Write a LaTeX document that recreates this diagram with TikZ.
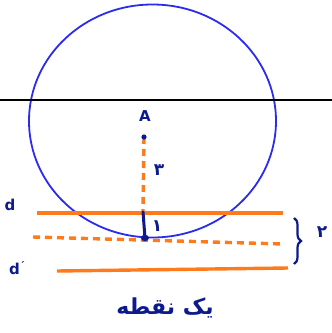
\documentclass[tikz,border=0pt]{standalone}
\usepackage{fontspec}
\setmainfont{DejaVu Sans}
\newfontfamily\arabicfont[Script=Arabic]{DejaVu Sans}
\TeXXeTstate=1
\usetikzlibrary{decorations.pathreplacing,shapes.geometric}
\definecolor{ink}{HTML}{0C1A8C}
\definecolor{circ}{HTML}{2B2BEE}
\definecolor{org}{HTML}{FF7A1A}
\begin{document}
\begin{tikzpicture}[x=1pt,y=-1pt,
  inktext/.style={text=ink,font=\bfseries\fontsize{15}{15}\selectfont,inner sep=0pt},
  fatext/.style={text=ink,font=\arabicfont\bfseries\fontsize{17}{17}\selectfont,inner sep=0pt},
  orangeline/.style={draw=org,line width=3.4pt},
  orangedash/.style={draw=org,line width=3.4pt,dash pattern=on 7pt off 5pt}]
\useasboundingbox (0,0) rectangle (332,333);
% circle
\node (C) [draw=circ,line width=1.8pt,ellipse,minimum width=247pt,minimum height=233pt,inner sep=0pt] at (152.5,121) {};
% horizontal black line
\coordinate (L1) at (0,100);
\coordinate (L2) at (332,100);
\draw[line width=2pt] (L1) -- (L2);
% points
\coordinate (A) at (144,137);
\coordinate (T) at (145,238);
\coordinate (T1) at (143,212);
% lines
\coordinate (d1) at (37,213); \coordinate (d2) at (283,213);
\coordinate (m1) at (33,237); \coordinate (m2) at (283,244);
\coordinate (e1) at (57,271); \coordinate (e2) at (288,268);
\draw[orangeline] (d1) -- (d2);
\draw[orangedash] (m1) -- (m2);
\draw[orangeline] (e1) -- (e2);
\draw[orangedash] (A) -- (T1);
\draw[ink,line width=3pt,line cap=round] (T1) -- (T);
\fill[ink] (A) circle (2.6pt);
\fill[ink] (T) ellipse (4pt and 3.2pt);
% brace
\coordinate (b1) at (294,218); \coordinate (b2) at (294,264);
\draw[ink,line width=2.2pt,decorate,decoration={brace,amplitude=7pt}] (b1) -- (b2);
% labels
\node[inktext] (lA) at (145,116) {A};
\node[inktext] (ld) at (10,205) {d};
\node[inktext] (ldp) at (17,268) {d\raisebox{5pt}{\fontsize{10}{10}\selectfont\textasciiacute}};
\node[fatext] (l3) at (159,170) {\beginR ۳\endR};
\node[fatext] (l1) at (157,226) {\beginR ۱\endR};
\node[fatext] (l2) at (322,232) {\beginR ۲\endR};
\node[fatext,font=\arabicfont\bfseries\fontsize{22}{22}\selectfont] (lt) at (165,308) {\beginR یک نقطه\endR};
\end{tikzpicture}
\end{document}
